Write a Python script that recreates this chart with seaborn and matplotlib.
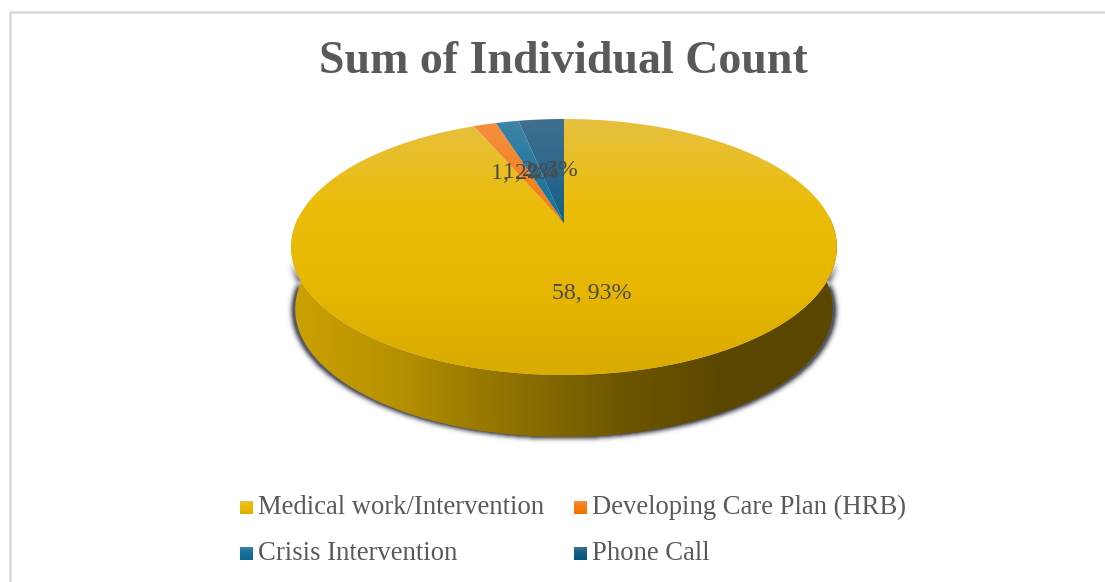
import numpy as np
import seaborn as sns
import matplotlib
matplotlib.use("Agg")
import matplotlib.pyplot as plt
from matplotlib.colors import LinearSegmentedColormap, to_rgb
from matplotlib.patches import PathPatch
from matplotlib.path import Path

categories = ["Medical work/Intervention", "Developing Care Plan (HRB)", "Crisis Intervention", "Phone Call"]
counts = [58, 1, 1, 2]
percent_labels = [93, 2, 2, 3]
chart_title = "Sum of Individual Count"

sns.set_theme(style="white")
plt.rcParams["font.family"] = ["Liberation Serif", "DejaVu Serif"]

# Top-to-bottom shading of each slice
slice_shades = [
    ["#E6C040", "#EBBD0A", "#E6B602", "#DAAB00"],
    ["#F59040", "#F47E18", "#F47A10", "#F07000"],
    ["#3F84A6", "#17749C", "#0F6E96", "#0A6890"],
    ["#41708F", "#1C6288", "#085C84", "#045478"],
]
side_shades = ["#CCA200", "#B59000", "#8F7200", "#6E5700", "#5A4700", "#5A4700"]

W, H = 1105, 582
fig = plt.figure(figsize=(W / 100, H / 100), dpi=100, facecolor="white")
ax = fig.add_axes([0, 0, 1, 1])
ax.set_xlim(0, W)
ax.set_ylim(H, 0)
ax.axis("off")

# Perspective projection of the unit disc onto the page
cx, cy = 564.0, 223.0
persp, span_y, span_x = 0.1875, 123.5, 268.0
depth = 62.0


def project(x, y):
    w = 1 + persp * y
    return cx + span_x * x / w, cy - span_y * y / w


def clipped_gradient(path, colors, horizontal=False, extent=None, zorder=2):
    cmap = LinearSegmentedColormap.from_list("shade", colors)
    grad = np.linspace(0, 1, 256)
    grad = grad[None, :] if horizontal else grad[:, None]
    img = ax.imshow(grad, cmap=cmap, extent=extent, aspect="auto", zorder=zorder, interpolation="bilinear")
    img.set_clip_path(PathPatch(path, transform=ax.transData))
    return img


ts = np.linspace(0, 2 * np.pi, 721)
rim_x, rim_y = project(np.cos(ts), np.sin(ts))
low_x = cx + 0.985 * (rim_x - cx)
low_y = rim_y + depth

lower = np.sin(ts) <= 0.05
order = np.argsort(ts[lower])
side_top = np.column_stack([rim_x[lower][order], rim_y[lower][order]])
side_low = np.column_stack([low_x[lower][order], low_y[lower][order]])
side_poly = np.vstack([side_top, side_low[::-1]])
side_path = Path(np.vstack([side_poly, side_poly[0]]), closed=True)

# Soft shadow hugging the wall, fading out towards the top rim
gx, gy = np.meshgrid(np.arange(W) + 0.5, np.arange(H) + 0.5)
grown_x = cx + (gx.ravel() - cx) / 1.012
mask = side_path.contains_points(np.column_stack([grown_x, gy.ravel() - 1.5])).reshape(H, W).astype(float)
kernel = np.exp(-0.5 * (np.arange(-9, 10) / 2.5) ** 2)
kernel /= kernel.sum()
blur = np.apply_along_axis(lambda r: np.convolve(r, kernel, mode="same"), 0, mask)
blur = np.apply_along_axis(lambda r: np.convolve(r, kernel, mode="same"), 1, blur)
fade = np.clip((gy - 262.0) / 25.0, 0, 1)
shadow = np.zeros((H, W, 4))
shadow[..., :3] = to_rgb("#3A3A48")
shadow[..., 3] = np.clip(blur * 1.2, 0, 0.85) * fade
ax.imshow(shadow, extent=(0, W, H, 0), aspect="auto", zorder=1, interpolation="bilinear")

# Side wall of the disc
clipped_gradient(side_path, side_shades, horizontal=True, extent=(291, 837, H, 0), zorder=2)

# Top faces, clockwise from twelve o'clock
values = np.array(counts, dtype=float)
edges = np.concatenate([[0], np.cumsum(values)]) / values.sum() * 2 * np.pi
top_y, bottom_y = rim_y.min(), rim_y.max()
for i, shades in enumerate(slice_shades):
    a = np.linspace(edges[i], edges[i + 1], 400)
    px, py = project(np.sin(a), np.cos(a))
    verts = np.vstack([[cx, cy], np.column_stack([px, py]), [cx, cy]])
    clipped_gradient(Path(verts, closed=True), shades, extent=(280, 850, bottom_y, top_y), zorder=3)

# Value labels sit halfway along each slice's bisector
for i, (count, pct) in enumerate(zip(counts, percent_labels)):
    mid = (edges[i] + edges[i + 1]) / 2
    lx, ly = project(0.5 * np.sin(mid), 0.5 * np.cos(mid))
    ax.text(lx - 2, ly + 4, f"{count}, {pct}%", ha="center", va="center", fontsize=17.2, color="#4A4A4A", zorder=5)

text_color = "#595959"
ax.text(563, 62, chart_title, ha="center", va="center", fontsize=33, fontweight="bold", color=text_color)

# Legend, two rows of two
swatch_x = [240, 574]
swatch_y = [501, 547]
for i, name in enumerate(categories):
    x0 = swatch_x[i % 2]
    y0 = swatch_y[i // 2]
    swatch = Path([(x0, y0), (x0 + 13, y0), (x0 + 13, y0 + 13), (x0, y0 + 13), (x0, y0)], closed=True)
    clipped_gradient(swatch, slice_shades[i], extent=(x0, x0 + 13, y0 + 13, y0), zorder=3)
    ax.text(x0 + 18, y0 + 6, name, ha="left", va="center", fontsize=19.2, color=text_color)

# Chart frame: left and top edges run off the page
ax.plot([9.5, 9.5, W], [H, 12, 12], color="#D9D9D9", lw=1.8, zorder=0, solid_joinstyle="miter")

ax.set_xlim(0, W)
ax.set_ylim(H, 0)
fig.savefig("out.png", dpi=100)
